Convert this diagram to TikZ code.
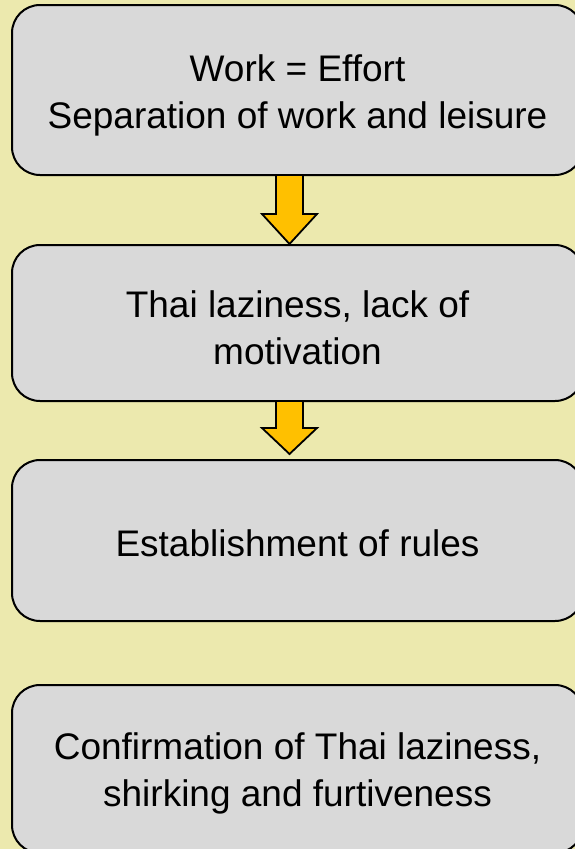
\documentclass[tikz,border=0pt]{standalone}
\usepackage{fontspec}
\setmainfont{Liberation Sans}
\usetikzlibrary{calc}
\definecolor{bgyellow}{RGB}{236,233,174}
\definecolor{boxgray}{RGB}{217,217,217}
\definecolor{arrowgold}{RGB}{255,192,0}
\tikzset{
  box/.style={draw=black, line width=2pt, fill=boxgray, rounded corners=28pt,
    minimum width=571pt, inner sep=0pt},
  boxtext/.style={align=center, inner sep=0pt, font=\fontsize{37}{47}\selectfont},
  blockarrow/.style={draw=black, line width=1.8pt, fill=arrowgold, line join=miter}
}
\begin{document}
\begin{tikzpicture}[x=1pt,y=-1pt]
\useasboundingbox (0,0) rectangle (575,849);
\fill[bgyellow] (0,0) rectangle (575,849);
\clip (0,0) rectangle (575,849);
\node[box, minimum height=170pt] (b1) at (297.5,90) {};
\node[box, minimum height=156pt] (b2) at (297.5,323) {};
\node[box, minimum height=161pt] (b3) at (297.5,540.5) {};
\node[box, minimum height=168pt] (b4) at (297.5,769) {};
\node[boxtext] (t1) at ($(b1.center)+(0,5)$) {Work = Effort\\Separation of work and leisure};
\node[boxtext] (t2) at ($(b2.center)+(0,5)$) {Thai laziness, lack of\\motivation};
\node[boxtext] (t3) at ($(b3.center)+(0,3)$) {Establishment of rules};
\node[boxtext] (t4) at ($(b4.center)+(0,4)$) {Confirmation of Thai laziness,\\shirking and furtiveness};
% arrow 1
\coordinate (a1) at (b1.south -| 289.5,0);
\draw[blockarrow] ($(a1)+(-13.5,0)$) -- ($(a1)+(-13.5,38)$) -- ($(a1)+(-27.5,38)$)
  -- (b2.north -| a1) -- ($(a1)+(27.5,38)$) -- ($(a1)+(13.5,38)$) -- ($(a1)+(13.5,0)$);
% arrow 2
\coordinate (a2) at (b2.south -| 289.5,0);
\draw[blockarrow] ($(a2)+(-13.5,0)$) -- ($(a2)+(-13.5,26)$) -- ($(a2)+(-27.5,26)$)
  -- ($(a2)+(0,52)$) -- ($(a2)+(27.5,26)$) -- ($(a2)+(13.5,26)$) -- ($(a2)+(13.5,0)$);
\end{tikzpicture}
\end{document}
